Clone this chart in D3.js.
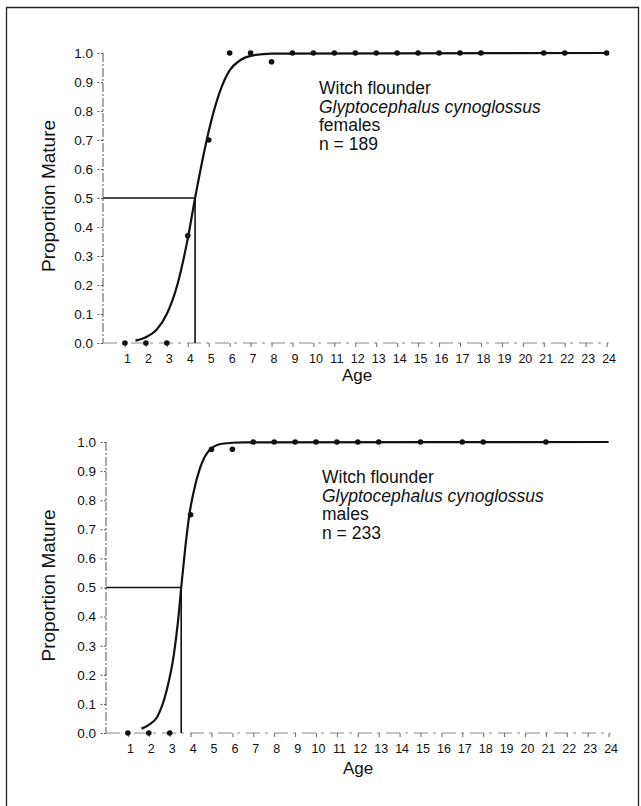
<!DOCTYPE html>
<html>
<head>
<meta charset="utf-8">
<script src="https://cdn.jsdelivr.net/npm/d3@7"></script>
<style>
  html, body { margin: 0; padding: 0; background: #fff; }
  svg { display: block; font-family: "Liberation Sans", Arial, Helvetica, sans-serif; }
</style>
</head>
<body>
<svg id="chart" width="641" height="806"></svg>
<script>
// ---------------- data ----------------
const ageTicks = d3.range(1, 25);                // x tick labels 1..24
const propTicks = [0, 0.1, 0.2, 0.3, 0.4, 0.5, 0.6, 0.7, 0.8, 0.9, 1.0];

// Females: observed proportions mature by age
const femaleAges = [1, 2, 3, 4, 5, 6, 7, 8, 9, 10, 11, 12, 13, 14, 15, 16, 17, 18, 21, 22, 24];
const femaleProp = [0, 0, 0, 0.37, 0.70, 1.0, 1.0, 0.97, 1.0, 1.0, 1.0, 1.0, 1.0, 1.0, 1.0, 1.0, 1.0, 1.0, 1.0, 1.0, 1.0];
// Females: fitted curve
const femaleCurveAge = [1.5, 2.0, 2.5, 3.0, 3.5, 4.0, 4.35, 4.7, 5.0, 5.5, 6.0, 6.5, 7.0, 8.0, 24];
const femaleCurveP   = [0.008, 0.02, 0.045, 0.10, 0.20, 0.36, 0.50, 0.63, 0.73, 0.86, 0.94, 0.975, 0.99, 0.998, 1.0];
const femaleA50 = 4.35;

// Males
const maleAges = [1, 2, 3, 4, 5, 6, 7, 8, 9, 10, 11, 12, 13, 15, 17, 18, 21];
const maleProp = [0, 0, 0, 0.75, 0.975, 0.975, 1.0, 1.0, 1.0, 1.0, 1.0, 1.0, 1.0, 1.0, 1.0, 1.0, 1.0];
const maleCurveAge = [1.65, 2.0, 2.4, 2.85, 3.2, 3.4, 3.55, 3.75, 3.95, 4.15, 4.45, 4.9, 5.5, 6.5, 24];
const maleCurveP   = [0.015, 0.028, 0.055, 0.145, 0.27, 0.385, 0.50, 0.64, 0.755, 0.83, 0.91, 0.972, 0.994, 0.999, 1.0];
const maleA50 = 3.55;

const femaleLabels = ["Witch flounder", "Glyptocephalus cynoglossus", "females", "n = 189"];
const maleLabels   = ["Witch flounder", "Glyptocephalus cynoglossus", "males", "n = 233"];

// ---------------- drawing ----------------
const svg = d3.select("#chart");
svg.append("rect").attr("width", 641).attr("height", 806).attr("fill", "#fff");

// outer frame (left, top, right)
svg.append("path")
  .attr("d", "M6.5,806 L6.5,7.5 L638.5,7.5 L638.5,806")
  .attr("fill", "none").attr("stroke", "#222").attr("stroke-width", 1.3);

function panel(cfg) {
  const x = d3.scaleLinear().domain([0, 24]).range([cfg.x0, cfg.x24]);
  const y = d3.scaleLinear().domain([0, 1]).range([cfg.y0, cfg.y1]);
  const g = svg.append("g");
  const axisX = x(0) - 1;

  // y axis
  const yAxis = d3.axisLeft(y).tickValues(propTicks).tickFormat(d3.format(".1f"))
    .tickSize(6).tickPadding(4);
  const ya = g.append("g").attr("transform", `translate(${axisX},0)`).call(yAxis);
  ya.select(".domain").attr("d", `M0,${y(1)}V${y(0)}`)
    .attr("stroke", "#555").attr("stroke-width", 1).attr("stroke-dasharray", "9,2,2,2");
  ya.selectAll(".tick line").attr("stroke", "#555").attr("stroke-dasharray", "2,1.5");
  ya.selectAll(".tick text").attr("font-size", 13.5).attr("fill", "#111")
    .attr("font-family", "Liberation Sans, Arial, sans-serif");

  // x axis
  const xAxis = d3.axisBottom(x).tickValues(ageTicks).tickFormat(d3.format("d"))
    .tickSize(4).tickPadding(7);
  const xa = g.append("g").attr("transform", `translate(0,${y(0)})`).call(xAxis);
  xa.select(".domain").attr("d", `M${axisX},0H${x(24.1)}`)
    .attr("stroke", "#888").attr("stroke-width", 1).attr("stroke-dasharray", "14,5,3,6");
  xa.selectAll(".tick line").attr("stroke", "#666");
  xa.selectAll(".tick text").attr("font-size", 12.5).attr("fill", "#111").attr("dx", 2)
    .attr("font-family", "Liberation Sans, Arial, sans-serif");

  // A50 reference lines
  g.append("line").attr("x1", axisX).attr("x2", x(cfg.a50))
    .attr("y1", y(0.5)).attr("y2", y(0.5))
    .attr("stroke", "#111").attr("stroke-width", 1.3);
  g.append("line").attr("x1", x(cfg.a50)).attr("x2", x(cfg.a50))
    .attr("y1", y(0.5)).attr("y2", y(0))
    .attr("stroke", "#111").attr("stroke-width", 1.6);

  // fitted curve
  const curveData = cfg.curveAge.map((a, i) => [a, cfg.curveP[i]]);
  g.append("path").datum(curveData)
    .attr("fill", "none").attr("stroke", "#111").attr("stroke-width", 2.2)
    .attr("d", d3.line().x(d => x(d[0])).y(d => y(d[1])).curve(d3.curveMonotoneX));

  // observed points
  const pts = cfg.ages.map((a, i) => [a, cfg.prop[i]]);
  g.selectAll("circle.pt").data(pts).enter().append("circle")
    .attr("class", "pt")
    .attr("cx", d => x(d[0])).attr("cy", d => y(d[1])).attr("r", 2.8)
    .attr("fill", "#111");

  // y label
  g.append("text")
    .attr("transform", `translate(55,${y(0.5) - 2}) rotate(-90)`)
    .attr("text-anchor", "middle").attr("font-size", 19).attr("fill", "#111")
    .text("Proportion Mature");

  // x label
  g.append("text").attr("x", cfg.ageX).attr("y", cfg.ageY)
    .attr("text-anchor", "middle").attr("font-size", 17).attr("fill", "#111")
    .text("Age");

  // annotation block
  const ann = g.append("text").attr("font-size", 17.5).attr("fill", "#111");
  cfg.labels.forEach((t, i) => {
    ann.append("tspan").attr("x", cfg.annX).attr("y", y(1) + 41 + i * 18.5)
      .attr("font-style", i === 1 ? "italic" : "normal").text(t);
  });
}

panel({
  x0: 104, x24: 606.6, y0: 343, y1: 53,
  ages: femaleAges, prop: femaleProp,
  curveAge: femaleCurveAge, curveP: femaleCurveP, a50: femaleA50,
  labels: femaleLabels, annX: 319, ageX: 357, ageY: 381
});
panel({
  x0: 107, x24: 608.6, y0: 733, y1: 442,
  ages: maleAges, prop: maleProp,
  curveAge: maleCurveAge, curveP: maleCurveP, a50: maleA50,
  labels: maleLabels, annX: 322, ageX: 358, ageY: 774
});
</script>
</body>
</html>
